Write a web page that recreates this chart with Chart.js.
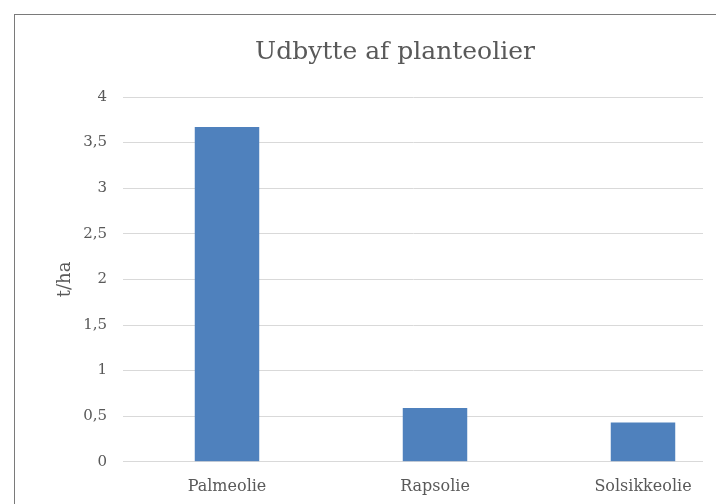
<!DOCTYPE html>
<html>
<head>
<meta charset="utf-8">
<script src="https://cdn.jsdelivr.net/npm/chart.js@4"></script>
<style>
  html, body { margin: 0; padding: 0; background: #fff; overflow: hidden; }
  #frame {
    position: absolute; left: 14px; top: 14px;
    width: 761px; height: 505px;
    border-left: 1px solid #7a7a7a; border-top: 1px solid #7a7a7a;
  }
  #barChart { display: block; }
</style>
</head>
<body>
<div id="frame"><canvas id="barChart" width="761" height="505"></canvas></div>
<script>
const chartTitle = "Udbytte af planteolier";
const axisTitle = "t/ha";
const categories = ["Palmeolie", "Rapsolie", "Solsikkeolie"];
const yields = [3.67, 0.59, 0.43];
const yTickLabels = ["0", "0,5", "1", "1,5", "2", "2,5", "3", "3,5", "4"];

const serif = "'DejaVu Serif', serif";
const textGrey = "#595959";

// gridlines in the original stop short of the plot's right end
const clipRight = {
  id: "clipRight",
  beforeDraw(chart) {
    const { ctx, chartArea } = chart;
    ctx.save();
    ctx.beginPath();
    ctx.rect(0, 0, chartArea.left + 580, chart.height);
    ctx.clip();
  },
  afterDraw(chart) {
    chart.ctx.restore();
  },
};

const canvas = document.getElementById("barChart");

new Chart(canvas, {
  type: "bar",
  data: {
    labels: categories,
    datasets: [
      {
        label: axisTitle,
        data: yields,
        backgroundColor: "#4f81bd",
        borderWidth: 0,
        barPercentage: 1,
        categoryPercentage: 0.31,
      },
    ],
  },
  options: {
    responsive: false,
    animation: false,
    layout: { padding: { left: 28, right: 29, top: 0, bottom: 9 } },
    plugins: {
      legend: { display: false },
      tooltip: { enabled: false },
      title: {
        display: true,
        text: chartTitle,
        color: textGrey,
        font: { family: serif, size: 25, weight: "normal" },
        padding: { top: 22, bottom: 30 },
      },
    },
    scales: {
      x: {
        grid: { display: false, drawTicks: false },
        border: { display: true, color: "#d9d9d9" },
        ticks: {
          color: textGrey,
          font: { family: serif, size: 16 },
          padding: 15,
        },
      },
      y: {
        min: 0,
        max: 4,
        afterFit: (scale) => { scale.width = 80; },
        border: { display: false },
        grid: { color: "#d9d9d9", drawTicks: false },
        ticks: {
          stepSize: 0.5,
          color: textGrey,
          font: { family: serif, size: 15 },
          padding: 16,
          callback: (v, i) => yTickLabels[i],
        },
        title: {
          display: true,
          text: axisTitle,
          color: textGrey,
          font: { family: serif, size: 18 },
          padding: { top: 12, bottom: 0 },
        },
      },
    },
  },
  plugins: [clipRight],
});
</script>
</body>
</html>
